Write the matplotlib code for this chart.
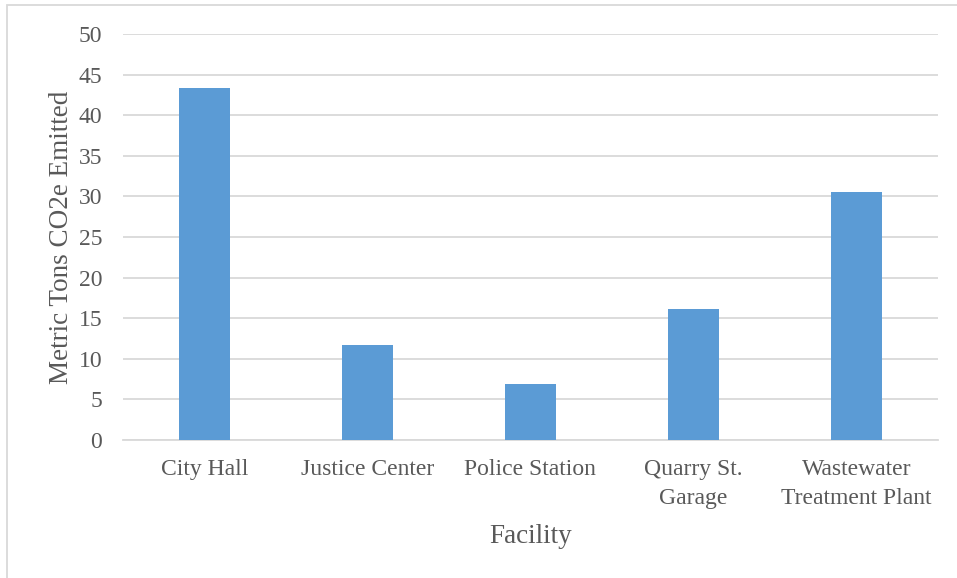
import matplotlib.pyplot as plt
from matplotlib.patches import Rectangle

facilities = ["City Hall", "Justice Center", "Police Station",
              "Quarry St.\nGarage", "Wastewater\nTreatment Plant"]
emissions = [43.3, 11.7, 6.9, 16.1, 30.5]
y_ticks = list(range(0, 51, 5))

bar_color = "#5B9BD5"
grid_color = "#D9D9D9"
text_color = "#595959"

plt.rcParams["font.family"] = ["Liberation Serif", "DejaVu Serif"]

fig = plt.figure(figsize=(9.57, 5.78), dpi=100)
ax = fig.add_axes([0.1285, 0.2388, 0.8515, 0.7022])

x = range(len(facilities))
ax.bar(x, emissions, width=0.31, color=bar_color, zorder=3)

ax.set_xlim(-0.5, len(facilities) - 0.5)
ax.set_ylim(0, 50)
ax.set_yticks(y_ticks)
ax.set_xticks(list(x))
ax.set_xticklabels(facilities, fontsize=17, color=text_color, linespacing=1.45)
ax.tick_params(axis="y", labelsize=17, labelcolor=text_color, length=0, pad=15)
ax.tick_params(axis="x", length=0, pad=14)

ax.grid(axis="y", color=grid_color, linewidth=1.3, zorder=0)
for side in ("top", "right", "left"):
    ax.spines[side].set_visible(False)
ax.spines["bottom"].set_color(grid_color)
ax.spines["bottom"].set_linewidth(1.3)

ax.set_xlabel("Facility", fontsize=19.5, color=text_color, labelpad=11)
ax.set_ylabel("Metric Tons CO2e Emitted", fontsize=19.5, color=text_color, labelpad=3)

# outer chart border (cut off on the right and bottom in the source)
fig.patches.append(Rectangle((7 / 957, -0.05), 1.2, 1 - 5 / 578 + 0.05,
                             transform=fig.transFigure, fill=False,
                             edgecolor=grid_color, linewidth=1.3))

fig.savefig("out.png", dpi=100)
